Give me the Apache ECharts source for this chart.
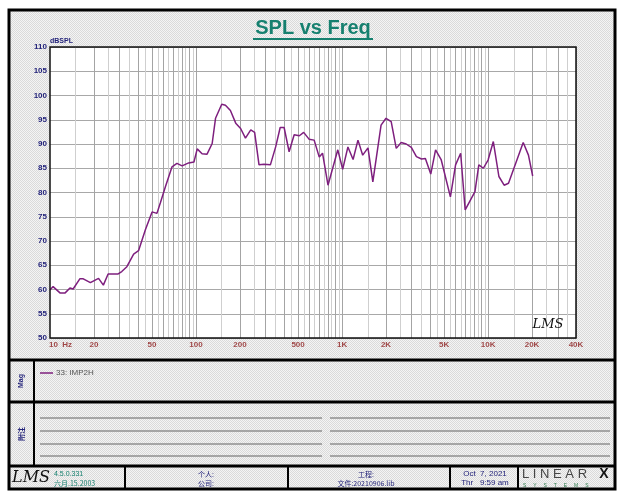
<!DOCTYPE html>
<html>
<head>
<meta charset="utf-8">
<title>SPL vs Freq</title>
<style>
    html, body { margin: 0; padding: 0; background: #fff; }
    #wrap { position: relative; width: 626px; height: 500px; }
    #paper { position: absolute; left: 9px; top: 10px; width: 606px; height: 479px;
        background-color: #e8e8e8;
        background-image: repeating-conic-gradient(#dadada 0% 25%, #f4f4f4 0% 50%);
        background-size: 2px 2px; }
    #main { position: absolute; left: 0; top: 0; width: 626px; height: 500px; }
</style>
</head>
<body>
<div id="wrap">
    <div id="paper"></div>
    <div id="main"></div>
</div>
<script type="text/javascript" src="https://cdn.jsdelivr.net/npm/echarts@6/dist/echarts.min.js"></script>
<script type="text/javascript">
    // 频率 (Hz)
    var freq = [10, 10.5, 11.7, 12.7, 13.7, 14.4, 16, 16.9, 18.9, 21.5,
        23.2, 25, 29.3, 31, 33.6, 37.4, 40.4, 45, 50, 54,
        57, 61.7, 68.5, 74, 80.3, 89, 96.8, 101.9, 110, 119,
        129, 136, 150, 159, 172, 187, 202, 218, 237, 252,
        270, 292, 323, 351, 377, 401, 434, 470, 510, 546,
        594, 644, 698, 735, 801, 935, 1010, 1097, 1190, 1285,
        1385, 1505, 1625, 1850, 2000, 2170, 2350, 2540, 2750, 2980,
        3230, 3500, 3720, 4050, 4370, 4770, 5520, 5990, 6490, 6970,
        8130, 8640, 9280, 10000, 10860, 11860, 12880, 13800, 17400, 18900, 20200];
    // 声压级 (dBSPL)
    var spl = [59.9, 60.6, 59.3, 59.3, 60.3, 60.1, 62.2, 62.2, 61.4, 62.3,
        60.9, 63.2, 63.2, 63.7, 64.7, 67.3, 68, 72.3, 76, 75.7,
        77.9, 81.2, 85.3, 86, 85.5, 86.1, 86.3, 89, 88, 87.9,
        90.1, 95.3, 98.2, 98, 96.9, 94.3, 93.2, 91.2, 92.9, 92.4,
        85.7, 85.8, 85.7, 89.4, 93.4, 93.4, 88.4, 91.9, 91.7, 92.4,
        91, 90.8, 87.3, 88.1, 81.5, 88.8, 84.8, 89.4, 86.8, 90.8,
        87.7, 89.2, 82.2, 93.9, 95.3, 94.6, 89.1, 90.3, 90, 89.3,
        87.4, 86.9, 87, 83.8, 88.8, 86.8, 79.1, 85.7, 88.1, 76.4,
        80.2, 85.7, 85, 86.7, 90.5, 83.3, 81.5, 81.9, 90.3, 87.7, 83.4];

    // x 轴刻度
    var xTickVals = [10, 20, 50, 100, 200, 500, 1000, 2000, 5000, 10000, 20000, 40000];
    var xTickText = ['10  Hz', '20', '50', '100', '200', '500', '1K', '2K', '5K', '10K', '20K', '40K'];
    // 网格
    var decades = [10, 100, 1000, 10000];
    var steps = [1.5, 2, 2.5, 3, 3.5, 4, 4.5, 5, 5.5, 6, 6.5, 7, 7.5, 8, 8.5, 9, 9.5, 10];

    var FONT = '"Liberation Sans", Arial, sans-serif';
    var CJK = '"Noto Sans CJK SC", sans-serif';
    var NAVY = '#23237a';
    var PURPLE = '#7e1f7e';

    var gridLines = [];
    for (var i = 0; i < decades.length; i++) {
        for (var j = 0; j < steps.length; j++) {
            var v = decades[i] * steps[j];
            if (v > 40000) continue;
            gridLines.push({
                xAxis: v,
                lineStyle: { color: steps[j] % 1 === 0 ? '#a4a4a4' : '#cfcfcf', width: 1, type: 'solid' }
            });
        }
    }

    var tickData = [];
    for (var k = 0; k < xTickVals.length; k++) {
        var item = { value: [xTickVals[k], 50] };
        if (k === 0) item.label = { align: 'left', offset: [-1, 0] };
        tickData.push(item);
    }

    // 边框和文字
    function line(x1, y1, x2, y2, w, c) {
        return { type: 'line', silent: true, shape: { x1: x1, y1: y1, x2: x2, y2: y2 },
            style: { stroke: c || '#000', lineWidth: w }, z: 50 };
    }
    function txt(x, y, s, opt) {
        opt = opt || {};
        return { type: 'text', silent: true, x: x, y: y, rotation: opt.rot || 0, z: 60,
            style: { text: s, fill: opt.color || NAVY, font: opt.font || ('bold 8px ' + FONT),
                textAlign: opt.align || 'center', textVerticalAlign: 'middle' } };
    }

    var graphics = [
        { type: 'rect', silent: true, shape: { x: 9, y: 10, width: 606, height: 479 },
            style: { fill: 'none', stroke: '#000', lineWidth: 3 }, z: 50 },
        line(9, 360, 615, 360, 3),
        line(9, 402, 615, 402, 3),
        line(9, 466, 615, 466, 3),
        line(34, 360, 34, 466, 2),
        line(125, 466, 125, 489, 2),
        line(288, 466, 288, 489, 2),
        line(450, 466, 450, 489, 2),
        line(518, 466, 518, 489, 2),
        // 绘图区边框
        { type: 'rect', silent: true, shape: { x: 50, y: 47, width: 526, height: 291 },
            style: { fill: 'none', stroke: '#111', lineWidth: 1.5 }, z: 55 },
        // 标题
        txt(313, 28, 'SPL vs Freq', { color: '#16806f', font: 'bold 20px ' + FONT }),
        line(253, 39, 373, 39, 2, '#16806f'),
        txt(50, 41, 'dBSPL', { align: 'left', font: 'bold 7px ' + FONT }),
        txt(548, 325, 'LMS', { color: '#111', font: 'italic 13px "DejaVu Serif", serif' }),
        // 图例
        line(40, 373, 53, 373, 1.5, PURPLE),
        txt(56, 373, '33: IMP2H', { align: 'left', color: '#555', font: '8px ' + FONT }),
        txt(21, 381, 'Mag', { rot: Math.PI / 2, font: 'bold 7px ' + FONT }),
        txt(21, 434, '附注', { rot: Math.PI / 2, font: 'bold 7px ' + CJK }),
        // 页脚
        txt(31, 478, 'LMS', { color: '#111', font: 'italic 16px "DejaVu Serif", serif' }),
        txt(54, 474, '4.5.0.331', { align: 'left', color: '#16806f', font: '7px ' + FONT }),
        txt(54, 483, '六月.15.2003', { align: 'left', color: '#16806f', font: '7px ' + CJK }),
        txt(206, 474, '个人:', { font: '7px ' + CJK }),
        txt(206, 483, '公司:', { font: '7px ' + CJK }),
        txt(366, 474, '工程:', { font: '7px ' + CJK }),
        txt(366, 483, '文件:20210906.lib', { font: '7px ' + CJK }),
        txt(485, 474, 'Oct  7, 2021', { font: '8px ' + FONT }),
        txt(485, 483, 'Thr   9:59 am', { font: '8px ' + FONT }),
        txt(522, 474, 'L I N E A R', { align: 'left', color: '#444', font: '13px ' + FONT }),
        txt(604, 474, 'X', { color: '#111', font: 'bold 14px ' + FONT }),
        txt(523, 486, 'S     Y     S     T     E     M     S', { align: 'left', color: '#2a7a4a', font: '5px ' + FONT })
    ];
    var noteY = [418, 431, 444, 456];
    for (var n = 0; n < noteY.length; n++) {
        graphics.push(line(40, noteY[n], 322, noteY[n], 1.5, '#8f8f8f'));
        graphics.push(line(330, noteY[n], 610, noteY[n], 1.5, '#8f8f8f'));
    }

    var myChart = echarts.init(document.getElementById('main'));
    var option = {
        animation: false,
        backgroundColor: 'transparent',
        grid: { left: 50, top: 47, right: 50, bottom: 162, show: true, backgroundColor: '#fff', borderWidth: 0 },
        xAxis: {
            type: 'log', logBase: 10, min: 10, max: 40000,
            axisLine: { show: false }, axisTick: { show: false },
            axisLabel: { show: false }, splitLine: { show: false }
        },
        yAxis: {
            type: 'value', min: 50, max: 110, interval: 5,
            axisLine: { show: false }, axisTick: { show: false },
            axisLabel: { color: NAVY, fontWeight: 'bold', fontSize: 8, fontFamily: FONT, margin: 3 },
            splitLine: { lineStyle: { color: '#a8a8a8', width: 1 } }
        },
        graphic: graphics,
        series: [{
            name: 'ticks',
            type: 'scatter',
            symbolSize: 0,
            clip: false,
            z: 1,
            data: tickData,
            label: {
                show: true, position: 'bottom', distance: 3,
                color: '#8c1c1c', fontWeight: 'bold', fontSize: 8, fontFamily: FONT,
                formatter: function(p) { return xTickText[p.dataIndex]; }
            },
            markLine: { silent: true, symbol: ['none', 'none'], label: { show: false }, data: gridLines }
        }, {
            name: '33: IMP2H',
            type: 'line',
            z: 5,
            symbol: 'none',
            lineStyle: { color: PURPLE, width: 1.5 },
            data: freq.map(function(f, i) { return [f, spl[i]]; })
        }]
    };
    myChart.setOption(option);
</script>
</body>
</html>
